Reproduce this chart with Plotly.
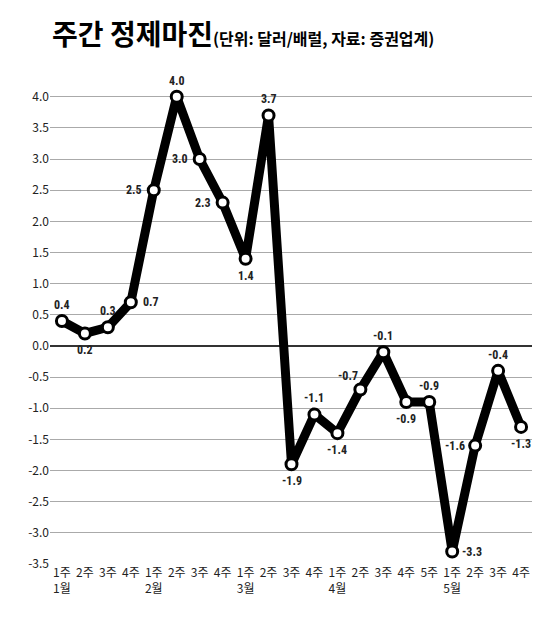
import plotly.graph_objects as go

weeks = ["1주", "2주", "3주", "4주", "1주", "2주", "3주", "4주", "1주", "2주", "3주", "4주",
         "1주", "2주", "3주", "4주", "5주", "1주", "2주", "3주", "4주"]
months = ["1월", "", "", "", "2월", "", "", "", "3월", "", "", "", "4월", "", "", "", "", "5월", "", "", ""]
margin = [0.4, 0.2, 0.3, 0.7, 2.5, 4.0, 3.0, 2.3, 1.4, 3.7, -1.9, -1.1, -1.4, -0.7, -0.1, -0.9, -0.9, -3.3, -1.6, -0.4, -1.3]
label_pos = ["a", "b", "a", "r", "l", "a", "l", "l", "b", "a", "b", "a", "b", "al", "a", "b", "a", "r", "l", "a", "b"]

x = list(range(len(margin)))
fig = go.Figure(go.Scatter(
    x=x, y=margin, mode="lines+markers",
    line=dict(color="black", width=9),
    marker=dict(size=11, color="white", line=dict(color="black", width=3)),
))

offs = {"a": (0, -16), "b": (0, 17), "l": (-20, 0), "r": (20, 0), "al": (-12, -14)}
for xi, v, p in zip(x, margin, label_pos):
    dx, dy = offs[p]
    fig.add_annotation(x=xi, y=v, text=f"<b>{v:.1f}</b>", showarrow=False,
                       xshift=dx, yshift=-dy, font=dict(size=12, color="#222", family="Roboto Condensed, Roboto"))

ticktext = [f"{w}<br>{m}" if m else w for w, m in zip(weeks, months)]
fig.update_layout(
    width=540, height=617, plot_bgcolor="white", paper_bgcolor="white",
    margin=dict(l=42, r=15, t=70, b=61), showlegend=False,
    font=dict(family="Noto Sans CJK KR", color="#222"),
    xaxis=dict(range=[-0.52, 20.52], tickvals=x, ticktext=ticktext, showgrid=False, automargin=False,
               zeroline=False, tickfont=dict(size=12), ticks=""),
    yaxis=dict(range=[-3.5, 4.3], tickvals=[i / 2 for i in range(-7, 9)], automargin=False,
               ticktext=[f"{i / 2:.1f}" for i in range(-7, 9)],
               gridcolor="#aaa", gridwidth=1, zeroline=True, zerolinecolor="#333", zerolinewidth=1.5,
               tickfont=dict(size=12)),
)
fig.add_annotation(xref="paper", yref="paper", x=0.0, y=1.0, yshift=45, xanchor="left", yanchor="middle",
                   showarrow=False,
                   text="<b><span style='font-size:28px'>주간 정제마진</span>"
                        "<span style='font-size:16px'>(단위: 달러/배럴, 자료: 증권업계)</span></b>",
                   font=dict(color="black"))
fig.write_html("out.html")
